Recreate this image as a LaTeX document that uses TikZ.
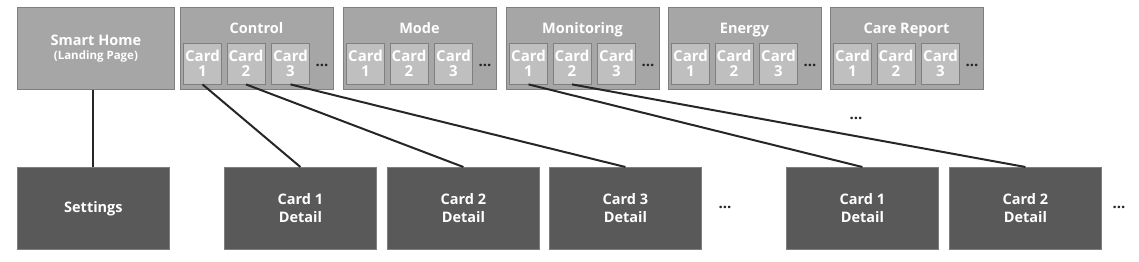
\documentclass[tikz,border=0pt]{standalone}
\usepackage{fontspec}
\setmainfont{Open Sans}
\usepackage{tikz}
\usetikzlibrary{positioning, calc}
\definecolor{topgray}{HTML}{A6A6A6}
\definecolor{cardgray}{HTML}{BFBFBF}
\definecolor{darkgray}{HTML}{595959}
\definecolor{edgegray}{HTML}{7F7F7F}
\definecolor{linkgray}{HTML}{262626}
\begin{document}
\begin{tikzpicture}[x=1pt, y=-1pt, font=\bfseries\fontsize{14.5}{16}\selectfont, text=white,
    topbox/.style={draw=edgegray, line width=0.8pt, fill=topgray, minimum width=153pt, minimum height=82pt, inner sep=0pt, anchor=north west},
    title/.style={anchor=base, inner sep=0pt},
    cardbox/.style={draw=edgegray, line width=0.8pt, fill=cardgray, minimum width=38pt, minimum height=41pt, inner sep=0pt, align=center, font=\bfseries\fontsize{15}{15.5}\selectfont},
    detailbox/.style={draw=edgegray, line width=0.8pt, fill=darkgray, minimum width=152pt, minimum height=82pt, inner sep=0pt, align=center, anchor=north west, font=\bfseries\fontsize{14.5}{18}\selectfont},
    dots/.style={font=\bfseries\fontsize{15}{16}\selectfont, text=linkgray, inner sep=0pt},
    link/.style={draw=linkgray, line width=2pt}]
    \useasboundingbox (0,0) rectangle (1139,262);
    % top row
    \node[topbox, minimum width=157pt, align=center] (home) at (17,7) {Smart Home\\[-2pt]{\fontsize{11.5}{13}\selectfont(Landing Page)}};
    \node[topbox] (ctl) at (180,7) {};
    \node[topbox] (mode) at (343,7) {};
    \node[topbox] (mon) at (506,7) {};
    \node[topbox] (en) at (668,7) {};
    \node[topbox] (care) at (830,7) {};
    \node[title] (ctlT) at (256.5,34) {Control};
    \node[title] (modeT) at (419.5,34) {Mode};
    \node[title] (monT) at (582.5,34) {Monitoring};
    \node[title] (enT) at (744.5,34) {Energy};
    \node[title] (careT) at (906.5,34) {Care Report};
    % cards
    \node[cardbox] (ctl1) at (202.5,63.5) {Card\\1};
    \node[cardbox] (ctl2) at (246,63.5) {Card\\2};
    \node[cardbox] (ctl3) at (290.5,63.5) {Card\\3};
    \node[dots] at (322,65) {...};
    \node[cardbox] (mode1) at (365.5,63.5) {Card\\1};
    \node[cardbox] (mode2) at (409,63.5) {Card\\2};
    \node[cardbox] (mode3) at (453.5,63.5) {Card\\3};
    \node[dots] at (485,65) {...};
    \node[cardbox] (mon1) at (528.5,63.5) {Card\\1};
    \node[cardbox] (mon2) at (572,63.5) {Card\\2};
    \node[cardbox] (mon3) at (616.5,63.5) {Card\\3};
    \node[dots] at (648,65) {...};
    \node[cardbox] (en1) at (690.5,63.5) {Card\\1};
    \node[cardbox] (en2) at (734,63.5) {Card\\2};
    \node[cardbox] (en3) at (778.5,63.5) {Card\\3};
    \node[dots] at (810,65) {...};
    \node[cardbox] (care1) at (852.5,63.5) {Card\\1};
    \node[cardbox] (care2) at (896,63.5) {Card\\2};
    \node[cardbox] (care3) at (940.5,63.5) {Card\\3};
    \node[dots] at (972,65) {...};
    \node[dots] at (856,118) {...};
    % bottom row
    \node[detailbox] (set) at (17,167) {Settings};
    \node[detailbox] (ctlD1) at (224,167) {Card 1\\Detail};
    \node[detailbox] (ctlD2) at (387,167) {Card 2\\Detail};
    \node[detailbox] (ctlD3) at (549,167) {Card 3\\Detail};
    \node[dots] at (725,207) {...};
    \node[detailbox] (monD1) at (786,167) {Card 1\\Detail};
    \node[detailbox] (monD2) at (949,167) {Card 2\\Detail};
    \node[dots] at (1119,207) {...};
    % links
    \draw[link] (set.north) -- (set.north |- home.south);
    \draw[link] (ctl1.south) -- (ctlD1.north);
    \draw[link] (ctl2.south) -- (ctlD2.north);
    \draw[link] (ctl3.south) -- (ctlD3.north);
    \draw[link] (mon1.south) -- (monD1.north);
    \draw[link] (mon2.south) -- (monD2.north);
\end{tikzpicture}
\end{document}
